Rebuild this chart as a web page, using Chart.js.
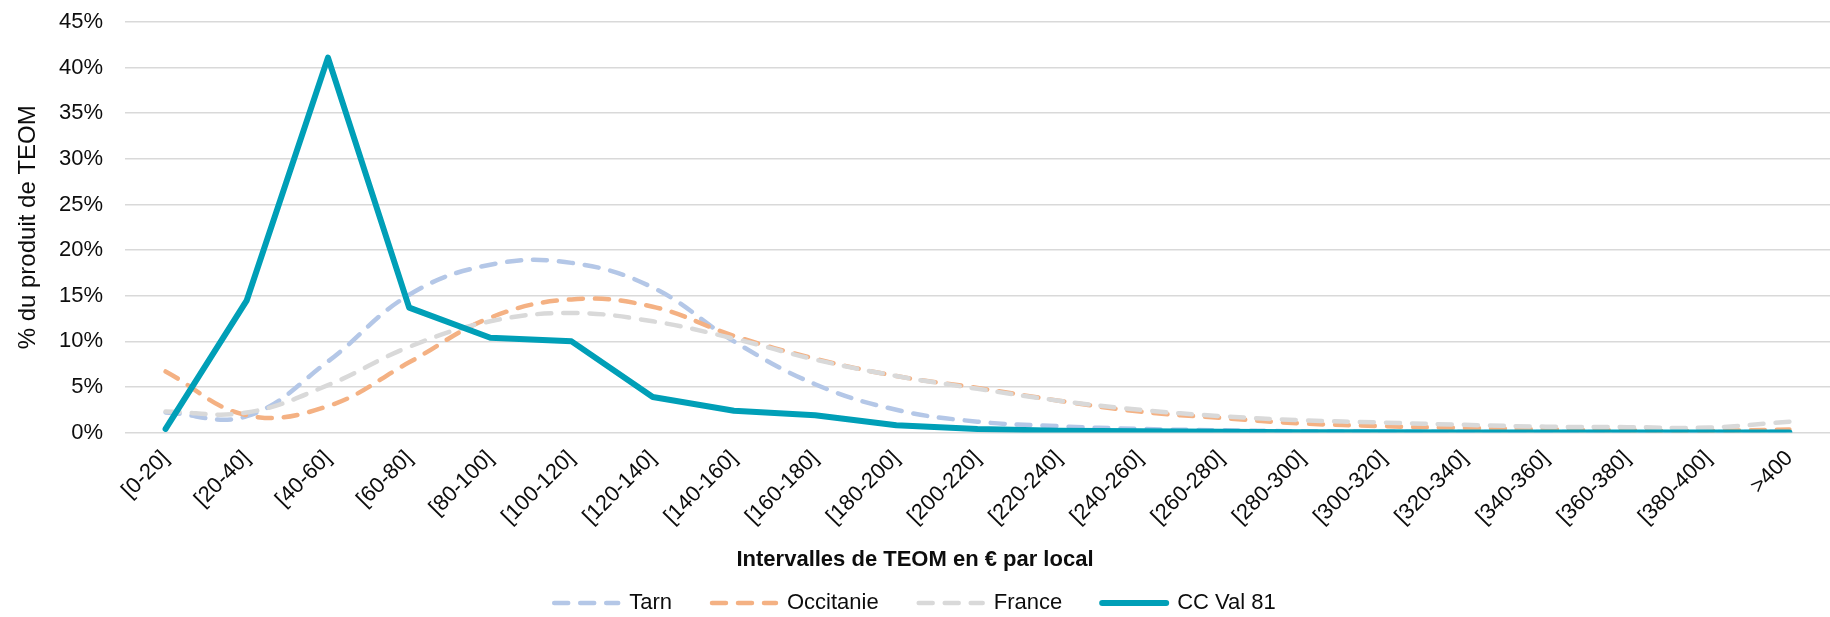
<!DOCTYPE html>
<html lang="fr">
<head>
<meta charset="utf-8">
<title>Produit de TEOM par intervalle</title>
<script src="https://cdn.jsdelivr.net/npm/chart.js@4/dist/chart.umd.min.js"></script>
<style>
  html, body { margin: 0; padding: 0; background: #ffffff; }
  #wrap { width: 1830px; height: 617px; }
</style>
</head>
<body>
<div id="wrap"><canvas id="teomChart" width="1830" height="617"></canvas></div>
<script>
"use strict";

// Intervalles de TEOM (€ par local)
const categories = [
  "[0-20]", "[20-40]", "[40-60]", "[60-80]", "[80-100]", "[100-120]",
  "[120-140]", "[140-160]", "[160-180]", "[180-200]", "[200-220]",
  "[220-240]", "[240-260]", "[260-280]", "[280-300]", "[300-320]",
  "[320-340]", "[340-360]", "[360-380]", "[380-400]", ">400",
];

// % du produit de TEOM
const tarn = [
  2.2, 1.8, 7.8, 15.1, 18.4, 18.6, 15.9, 10.0, 5.3, 2.5, 1.2,
  0.7, 0.4, 0.25, 0.15, 0.1, 0.08, 0.06, 0.05, 0.05, 0.1,
];
const occitanie = [
  6.7, 1.9, 2.9, 7.7, 12.6, 14.6, 13.8, 10.6, 8.1, 6.2, 4.9,
  3.5, 2.3, 1.6, 1.0, 0.7, 0.5, 0.35, 0.25, 0.2, 0.35,
];
const france = [
  2.3, 2.2, 5.2, 9.4, 12.2, 13.1, 12.2, 10.3, 8.0, 6.2, 4.8,
  3.5, 2.5, 1.8, 1.35, 1.1, 0.85, 0.65, 0.6, 0.55, 1.2,
];
const ccVal81 = [
  0.4, 14.5, 41.1, 13.7, 10.4, 10.0, 3.9, 2.4, 1.9, 0.8, 0.4,
  0.2, 0.15, 0.1, 0.05, 0.03, 0.02, 0.01, 0.01, 0.01, 0.02,
];

const yMax = 45;
const yStep = 5;

const FONT = "'Liberation Sans', Arial, sans-serif";
const TEXT = "#0d0d0d";

function dashed(label, data, color, order) {
  return {
    label,
    data,
    borderColor: color,
    backgroundColor: color,
    borderWidth: 4.5,
    borderDash: [14, 12],
    borderCapStyle: "round",
    tension: 0.4,
    pointRadius: 0,
    fill: false,
    order,
  };
}

const datasets = [
  dashed("Tarn", tarn, "#B4C7E7", 3),
  dashed("Occitanie", occitanie, "#F4B183", 2),
  dashed("France", france, "#D9D9D9", 1),
  {
    label: "CC Val 81",
    data: ccVal81,
    borderColor: "#009FB7",
    backgroundColor: "#009FB7",
    borderWidth: 6,
    borderCapStyle: "round",
    borderJoinStyle: "round",
    tension: 0,
    pointRadius: 0,
    fill: false,
    order: 0,
  },
];

new Chart(document.getElementById("teomChart"), {
  type: "line",
  data: { labels: categories, datasets },
  options: {
    responsive: false,
    animation: false,
    devicePixelRatio: 1,
    layout: { padding: { top: 22, right: 0, bottom: 0, left: 0 } },
    plugins: {
      tooltip: { enabled: false },
      title: {
        display: true,
        position: "bottom",
        weight: 500,
        text: "Intervalles de TEOM en € par local",
        color: TEXT,
        font: { family: FONT, size: 22, weight: "bold" },
        padding: { top: 16, bottom: -21 },
      },
      legend: {
        position: "bottom",
        maxHeight: 65,
        labels: {
          usePointStyle: true,
          pointStyleWidth: 64,
          padding: 40,
          color: TEXT,
          font: { family: FONT, size: 22 },
          // build the line samples from the datasets themselves
          generateLabels: (chart) =>
            chart.data.datasets.map((ds, i) => ({
              text: ds.label,
              datasetIndex: i,
              strokeStyle: ds.borderColor,
              fillStyle: ds.borderColor,
              lineWidth: ds.borderWidth,
              lineDash: ds.borderDash || [],
              lineCap: "round",
              pointStyle: "line",
              hidden: false,
              fontColor: TEXT,
            })),
        },
      },
    },
    scales: {
      x: {
        offset: true,
        grid: { display: false, drawTicks: false },
        border: { display: false },
        ticks: {
          autoSkip: false,
          maxRotation: 45,
          minRotation: 45,
          padding: 13,
          color: TEXT,
          font: { family: FONT, size: 22 },
        },
        afterFit: (scale) => {
          scale.height = 98;
        },
      },
      y: {
        min: 0,
        max: yMax,
        // invisible tick marks push the labels left without adding top padding
        grid: {
          color: "#D9D9D9",
          lineWidth: 1.5,
          drawTicks: true,
          tickLength: 19,
          tickColor: "rgba(0,0,0,0)",
        },
        border: { display: false },
        ticks: {
          stepSize: yStep,
          padding: 3,
          color: TEXT,
          font: { family: FONT, size: 22 },
          callback: (v) => v + "%",
        },
        title: {
          display: true,
          text: "% du produit de TEOM",
          color: TEXT,
          font: { family: FONT, size: 24 },
          padding: { top: 14, bottom: 0 },
        },
        afterFit: (scale) => {
          scale.width = 125;
        },
      },
    },
  },
});
</script>
</body>
</html>
